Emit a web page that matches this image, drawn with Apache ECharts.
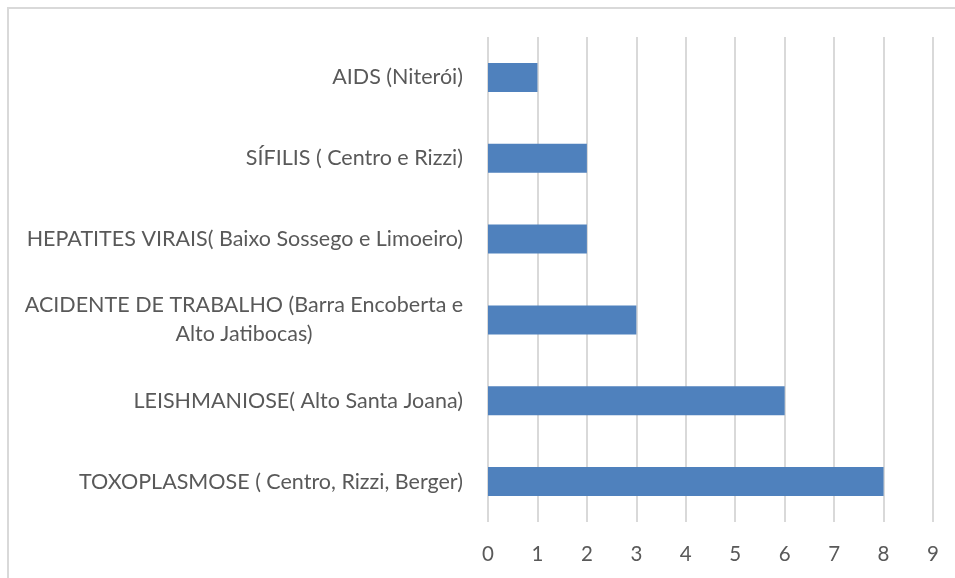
<!DOCTYPE html>
<html>
<head>
<meta charset="utf-8">
<script src="https://cdn.jsdelivr.net/npm/echarts@6/dist/echarts.min.js"></script>
<style>
    html, body { margin: 0; padding: 0; background: #fff; }
    #chart { width: 955px; height: 578px; }
</style>
</head>
<body>
<div id="chart"></div>
<script>
// categorias de cima para baixo
var categorias = [
    'AIDS (Niterói)',
    'SÍFILIS ( Centro e Rizzi)',
    'HEPATITES VIRAIS( Baixo Sossego e Limoeiro)',
    'ACIDENTE DE TRABALHO (Barra Encoberta e\nAlto Jatibocas)',
    'LEISHMANIOSE( Alto Santa Joana)',
    'TOXOPLASMOSE ( Centro, Rizzi, Berger)'
];
var valores = [1, 2, 2, 3, 6, 8];
var ticks = [0, 1, 2, 3, 4, 5, 6, 7, 8, 9];

var fonte = 'Lato';
var cinza = '#595959';

var chart = echarts.init(document.getElementById('chart'));

chart.setOption({
    animation: false,
    graphic: [{
        type: 'rect',
        shape: { x: 8, y: 8, width: 1200, height: 1200 },
        style: { fill: 'none', stroke: '#d9d9d9', lineWidth: 2 },
        silent: true
    }],
    grid: {
        left: 488,
        right: 22,
        top: 37,
        bottom: 56
    },
    xAxis: {
        type: 'value',
        min: ticks[0],
        max: ticks[ticks.length - 1],
        interval: 1,
        axisLine: { show: false },
        axisTick: { show: false },
        axisLabel: {
            color: cinza,
            fontFamily: fonte,
            fontSize: 20.5,
            margin: 22
        },
        splitLine: { lineStyle: { color: '#d9d9d9', width: 2 } }
    },
    yAxis: {
        type: 'category',
        inverse: true,
        data: categorias,
        axisLine: { show: false },
        axisTick: { show: false },
        axisLabel: {
            color: cinza,
            fontFamily: fonte,
            fontSize: 21.5,
            margin: 25,
            lineHeight: 29,
            formatter: function (v) {
                // rótulo de duas linhas: linhas centradas entre si
                if (v.indexOf('\n') >= 0) {
                    var p = v.split('\n');
                    return '{c|' + p[0] + '}\n{c|' + p[1] + '}';
                }
                return v;
            },
            rich: {
                c: {
                    color: cinza,
                    fontFamily: fonte,
                    fontSize: 21.5,
                    lineHeight: 29,
                    width: 438,
                    align: 'center'
                }
            }
        }
    },
    series: [{
        type: 'bar',
        data: valores,
        barWidth: 29,
        itemStyle: { color: '#4f81bd' }
    }]
});
</script>
</body>
</html>
